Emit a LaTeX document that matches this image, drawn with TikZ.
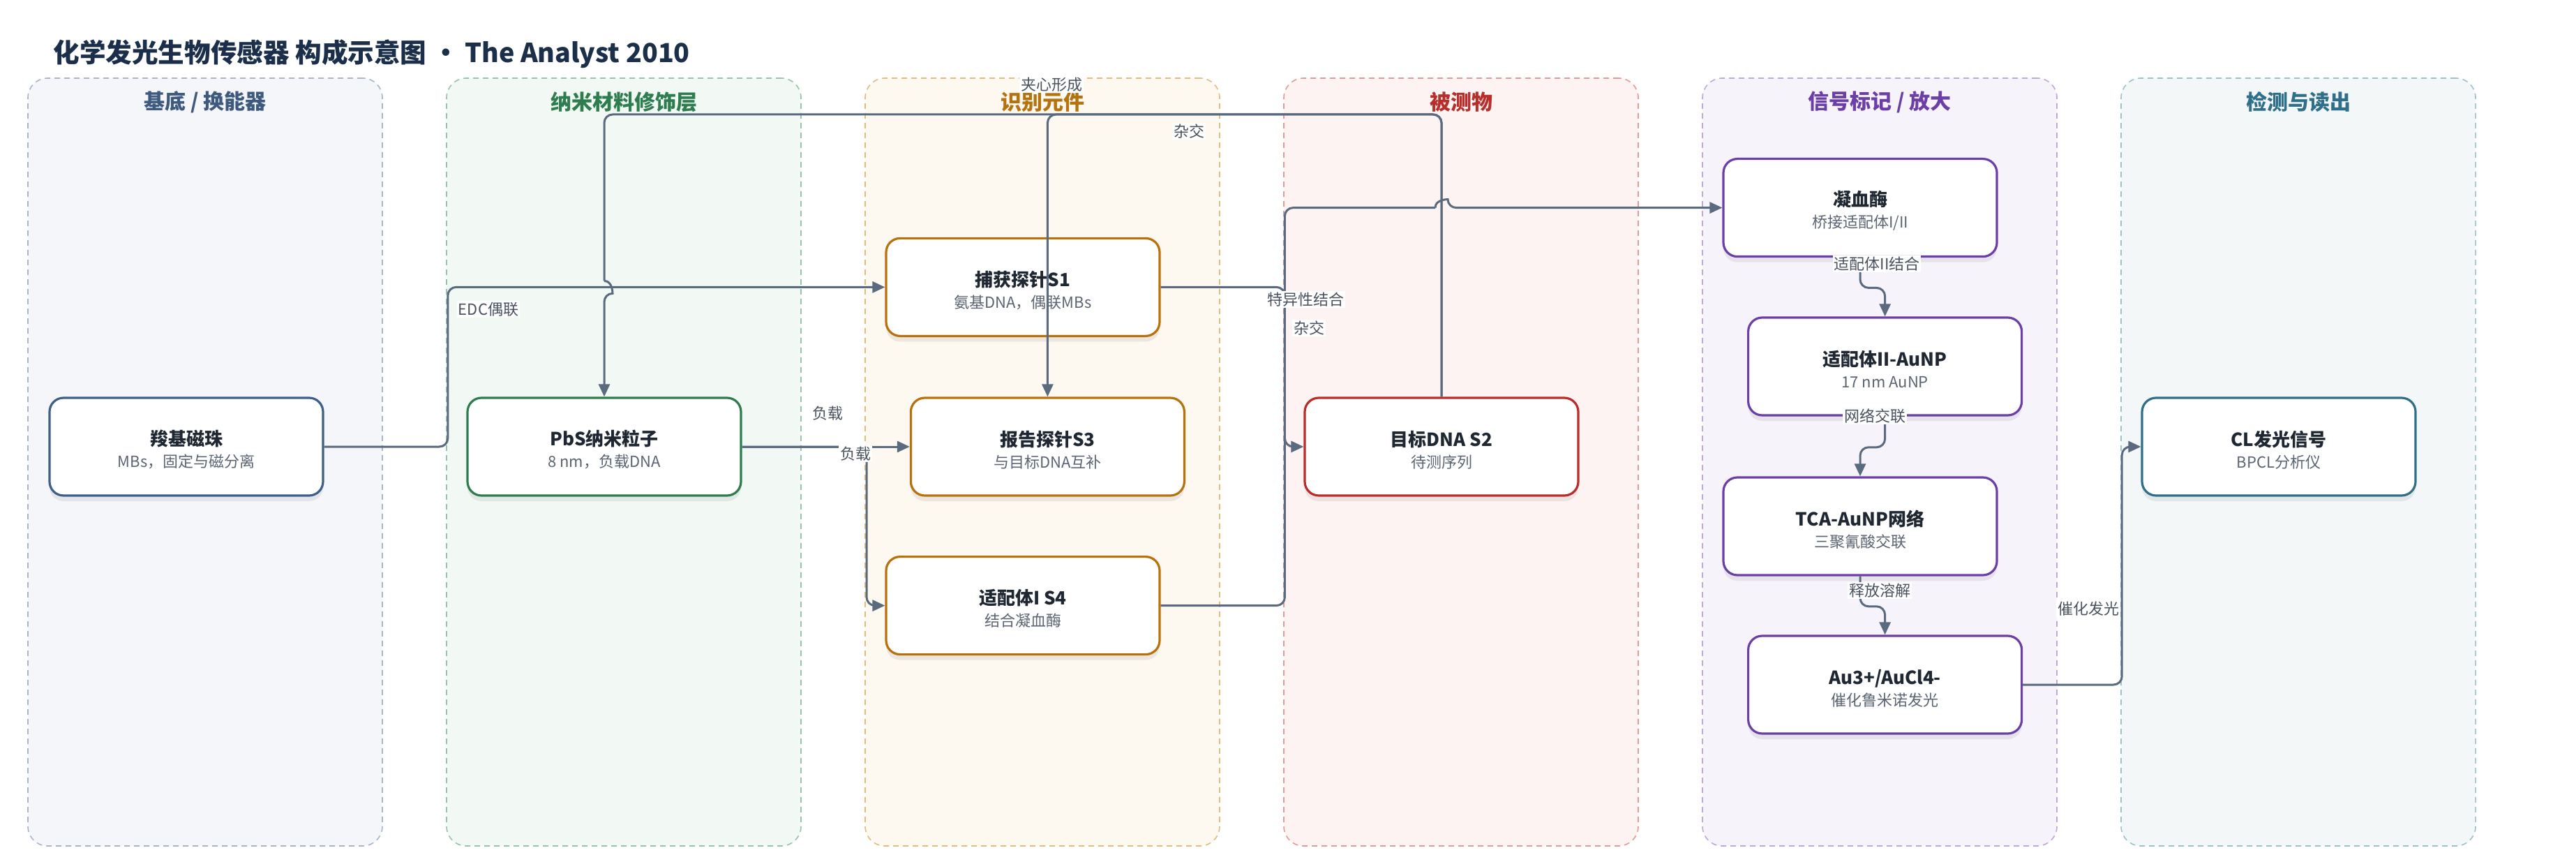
\documentclass[tikz,border=0pt]{standalone}
\usepackage{fontspec}
\setmainfont{Noto Sans CJK SC}
\usetikzlibrary{arrows.meta}
\usetikzlibrary{positioning}
\usetikzlibrary{shadows}

\definecolor{headtxt}{HTML}{1B2F4B}
\definecolor{nodetxt}{HTML}{1F2733}
\definecolor{subtxt}{HTML}{5B6472}
\definecolor{lbltxt}{HTML}{4A5260}
\definecolor{edgec}{HTML}{5A6B80}
% lane colours
\definecolor{bluL}{HTML}{A9B6C9}\definecolor{bluF}{HTML}{F5F6FA}\definecolor{bluT}{HTML}{3F5A7F}
\definecolor{grnL}{HTML}{98C5A8}\definecolor{grnF}{HTML}{F2F8F4}\definecolor{grnT}{HTML}{2E7D4F}
\definecolor{orgL}{HTML}{E3BC7E}\definecolor{orgF}{HTML}{FDF8F0}\definecolor{orgT}{HTML}{B5730F}
\definecolor{redL}{HTML}{E39A98}\definecolor{redF}{HTML}{FDF3F2}\definecolor{redT}{HTML}{B82E2A}
\definecolor{purL}{HTML}{BFA8DD}\definecolor{purF}{HTML}{F6F3FB}\definecolor{purT}{HTML}{6B3FA5}
\definecolor{teaL}{HTML}{9DC2CE}\definecolor{teaF}{HTML}{F3F7F8}\definecolor{teaT}{HTML}{2F6F8A}
% node borders
\definecolor{blu}{HTML}{3F5F8A}
\definecolor{grn}{HTML}{2E7D4F}
\definecolor{org}{HTML}{B8720D}
\definecolor{red}{HTML}{B82E2A}
\definecolor{pur}{HTML}{6B3FA5}
\definecolor{tea}{HTML}{2F6F8A}

\newcommand{\parttext}[2]{{\fontsize{13}{16}\selectfont\bfseries\rule{0pt}{15.5pt}#1}\\{\color{subtxt}#2}}

\tikzset{
    lane/.style 2 args={
        rectangle, rounded corners=14pt,
        draw=#1, fill=#2, line width=0.8pt,
        dash pattern=on 4pt off 3pt,
        minimum width=254pt, minimum height=550pt,
    },
    lanetitle/.style={font=\fontsize{15}{18}\selectfont\bfseries},
    part/.style={
        rectangle, rounded corners=10pt,
        draw=#1, line width=1.6pt, fill=white,
        minimum width=196pt, minimum height=70pt,
        align=center, text=nodetxt,
        font=\fontsize{11}{15.5}\selectfont,
        drop shadow={opacity=0.14, shadow xshift=0pt, shadow yshift=-4pt},
    },
    link/.style={draw=edgec, line width=1.5pt, rounded corners=6pt},
    arr/.style={-{Triangle[length=9pt,width=8pt]}},
    lbl/.style={fill=white, inner sep=1pt, text=lbltxt, font=\fontsize{11}{13}\selectfont},
}

\begin{document}
\begin{tikzpicture}[x=1pt, y=-1pt]
    \useasboundingbox (0,0) rectangle (1846,617.5);
    \fill[white] (0,0) rectangle (1846,617.5);

    \node (head) at(38,38.5) [anchor=west, inner sep=0pt, text=headtxt,
        font=\fontsize{18.8}{23}\selectfont\bfseries]
        {化学发光生物传感器 构成示意图 • The Analyst 2010};

    % lanes
    \node (lane1) at(147,331) [lane={bluL}{bluF}] {};
    \node (lane2) at(447,331) [lane={grnL}{grnF}] {};
    \node (lane3) at(747,331) [lane={orgL}{orgF}] {};
    \node (lane4) at(1047,331) [lane={redL}{redF}] {};
    \node (lane5) at(1347,331) [lane={purL}{purF}] {};
    \node (lane6) at(1647,331) [lane={teaL}{teaF}] {};

    \node (lane1t) at(147,73) [lanetitle, text=bluT] {基底 / 换能器};
    \node (lane2t) at(447,73) [lanetitle, text=grnT] {纳米材料修饰层};
    \node (lane3t) at(747,73) [lanetitle, text=orgT] {识别元件};
    \node (lane4t) at(1047,73) [lanetitle, text=redT] {被测物};
    \node (lane5t) at(1347,73) [lanetitle, text=purT] {信号标记 / 放大};
    \node (lane6t) at(1647,73) [lanetitle, text=teaT] {检测与读出};

    % parts
    \node (mbs) at(133.5,320) [part=blu] {\parttext{羧基磁珠}{MBs，固定与磁分离}};
    \node (pbs) at(433,320) [part=grn] {\parttext{PbS纳米粒子}{8 nm，负载DNA}};
    \node (s1) at(733,205.7) [part=org] {\parttext{捕获探针S1}{氨基DNA，偶联MBs}};
    \node (s3) at(750.7,320) [part=org] {\parttext{报告探针S3}{与目标DNA互补}};
    \node (s4) at(733,433.8) [part=org] {\parttext{适配体I S4}{结合凝血酶}};
    \node (tgt) at(1033,320) [part=red] {\parttext{目标DNA S2}{待测序列}};
    \node (thr) at(1333,148.8) [part=pur] {\parttext{凝血酶}{桥接适配体I/II}};
    \node (adp2) at(1350.8,262.5) [part=pur] {\parttext{适配体II-AuNP}{17 nm AuNP}};
    \node (tca) at(1333,377) [part=pur] {\parttext{TCA-AuNP网络}{三聚氰酸交联}};
    \node (au) at(1350.8,490.5) [part=pur] {\parttext{Au3+/AuCl4-}{催化鲁米诺发光}};
    \node (cl) at(1633,320) [part=tea] {\parttext{CL发光信号}{BPCL分析仪}};

    % routing helpers
    \coordinate (top) at (0,82);
    \coordinate (busB) at (320.9,0);
    \coordinate (busC) at (621,0);
    \coordinate (busD) at (920.7,0);
    \coordinate (busF) at (1520.6,0);
    \coordinate (hopA1) at (433,201.2);
    \coordinate (hopA2) at (433,210.2);
    \coordinate (hopB1) at (1028.5,148.8);
    \coordinate (hopB2) at (1037.5,148.8);

    % connectors
    \draw[link, arr] (mbs.east) -| (busB |- s1.west) -- (s1.west);
    \draw[link] (tgt.north) |- (pbs.north |- top) -- (hopA1);
    \draw[link, arr] (hopA1) .. controls +(6,0) and +(6,0) .. (hopA2) -- (pbs.north);
    \draw[link, arr] (tgt.north) |- (s3.north |- top) -- (s3.north);
    \draw[link, arr] (pbs.east) -- (s3.west);
    \draw[link, arr] (pbs.east) -| (busC |- s4.west) -- (s4.west);
    \draw[link, arr] (s1.east) -| (busD |- tgt.west) -- (tgt.west);
    \draw[link] (s4.east) -| (busD |- thr.west) -- (hopB1);
    \draw[link, arr] (hopB1) .. controls +(0,-6) and +(0,-6) .. (hopB2) -- (thr.west);
    \draw[link, arr] (thr.south) -- ++(0,21.6) -| (adp2.north);
    \draw[link, arr] (adp2.south) -- ++(0,22.1) -| (tca.north);
    \draw[link, arr] (tca.south) -- ++(0,21.6) -| (au.north);
    \draw[link, arr] (au.east) -| (busF |- cl.west) -- (cl.west);

    % connector labels
    \node (lEdc) at(350,221.5) [lbl] {EDC偶联};
    \node (lSand) at(753.5,60.5) [lbl] {夹心形成};
    \node (lHyb1) at(852,94) [lbl] {杂交};
    \node (lBind) at(935.5,214.5) [lbl] {特异性结合};
    \node (lHyb2) at(938,235) [lbl] {杂交};
    \node (lLoad1) at(593,296) [lbl] {负载};
    \node (lLoad2) at(613,325) [lbl] {负载};
    \node (lApt) at(1345,189) [lbl] {适配体II结合};
    \node (lNet) at(1343.5,298) [lbl] {网络交联};
    \node (lRel) at(1347,423) [lbl] {释放溶解};
    \node (lCat) at(1496.5,436) [lbl] {催化发光};
\end{tikzpicture}
\end{document}
